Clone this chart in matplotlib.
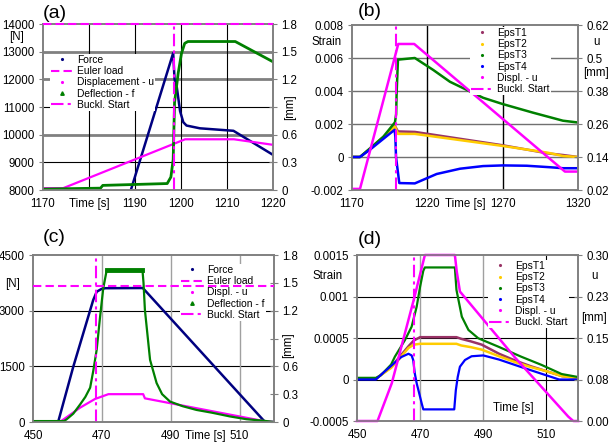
import matplotlib
matplotlib.use("Agg")
import matplotlib.pyplot as plt
from matplotlib.lines import Line2D

plt.rcParams["font.family"] = ["Liberation Sans", "DejaVu Sans"]

NAVY, MAG, GREEN = "#000080", "#ff00ff", "#008000"
PURP, YEL, BLUE = "#993366", "#ffcc00", "#0000ff"
GRAY, SPINE = "#808080", "#808080"

# ---- (a) static test, time 1170..1220 s
a_force_t = [1189.1, 1198.3, 1198.6, 1199.1, 1199.8, 1200.5, 1201.2, 1204.1, 1211.4, 1220.0]
a_force = [8000, 12950, 12000, 11700, 10850, 10450, 10330, 10230, 10140, 9270]
a_u_t = [1170, 1174.4, 1200.9, 1211.5, 1220]
a_u = [0.02, 0.02, 0.55, 0.55, 0.49]
a_f_t = [1170, 1182.5, 1183.0, 1197.0, 1197.8, 1198.3, 1198.6, 1199.4, 1200.1, 1200.8, 1201.5, 1211.8, 1220]
a_f = [0.01, 0.02, 0.05, 0.07, 0.14, 0.33, 0.95, 1.27, 1.48, 1.59, 1.61, 1.61, 1.39]
a_euler = 14000
a_buckle = 1198.5

# ---- (b) strains, time 1170..1320 s
b_rise_t = [1170, 1175.3, 1182, 1190.8]
b_t3_t = b_rise_t + [1198.5, 1199.3, 1199.6, 1200.5, 1211.7, 1224, 1235, 1257, 1270, 1290, 1310, 1320]
b_t3 = [0, 0, 0.00053, 0.00123, 0.0021, 0.0026, 0.0038, 0.0059, 0.0060, 0.00527,
        0.00456, 0.00359, 0.00321, 0.00269, 0.0022, 0.00209]
b_t12_t = b_rise_t + [1198.5, 1200.5, 1211.7, 1270, 1300, 1310, 1320]
b_t1 = [0, 0, 0.0005, 0.0012, 0.00188, 0.00155, 0.00152, 0.00071, 0.00022, 0.00012, 0.0]
b_t2 = [0, 0, 0.0005, 0.0012, 0.00185, 0.0014, 0.0014, 0.00067, 0.00026, 0.00006, 0.0]
b_t4_t = [1170, 1175.3, 1182, 1190.8, 1198.3, 1198.8, 1199.2, 1201.4, 1211.7, 1226.2,
          1241.7, 1257, 1270, 1286, 1301.4, 1310, 1320]
b_t4 = [0, 0, 0.00045, 0.0011, 0.00165, 0.0012, 0.0, -0.00158, -0.0016, -0.00103,
        -0.00071, -0.00055, -0.00051, -0.00053, -0.00062, -0.00068, -0.00068]
b_u_t = [1170, 1175.3, 1200.7, 1211.3, 1311.3, 1320]
b_u = [0.024, 0.024, 0.551, 0.551, 0.087, 0.087]
b_buckle = 1199

# ---- (c) dynamic test, time 450..520 s
c_force_t = [450, 457.3, 461.7, 467.5, 468.5, 469.9, 471.0, 481.9, 517.4, 520]
c_force = [0, 0, 1490, 3290, 3510, 3585, 3605, 3610, 0, 0]
c_u_t = [450, 457.8, 463.7, 468, 471.9, 482, 482.5, 517, 520]
c_u = [0, 0, 0.155, 0.248, 0.30, 0.30, 0.255, 0.01, 0.0]
c_f_t = [450, 459, 459.8, 461.7, 463.7, 465.2, 466.6, 467.5, 468.5, 469.5, 470.4, 471.4, 481.8,
         482.1, 482.5, 484, 485.9, 487.5, 489.8, 493.5, 497.5, 502, 507.2, 512, 516.9, 520]
c_f = [0.01, 0.01, 0.03, 0.09, 0.19, 0.27, 0.37, 0.55, 0.78, 1.14, 1.44, 1.635, 1.635,
       1.5, 1.21, 0.67, 0.42, 0.3, 0.22, 0.17, 0.13, 0.1, 0.06, 0.03, 0.014, 0.0]
c_euler = 3665
c_buckle = 468.3

# ---- (d) strains, time 450..520 s
d_t3_t = [450, 456, 457.5, 460.8, 462, 465.2, 467.3, 468.9, 470, 471, 471.5, 481, 481.5,
          483.2, 485.3, 488.4, 494.8, 502, 508.5, 514.8, 520]
d_t3 = [0.00002, 0.00002, 0.00005, 0.00018, 0.000275, 0.000476, 0.000636, 0.000877, 0.00112,
        0.00131, 0.00135, 0.00135, 0.00108, 0.000757, 0.000597, 0.000497, 0.000395, 0.000275,
        0.000175, 0.000066, 0.00003]
d_t12_t = [450, 456, 460.8, 463, 466.3, 468, 470, 481.5, 483, 486, 489.5, 495, 500, 505, 510, 515, 520]
d_t1 = [0.00001, 0.00001, 0.00015, 0.00025, 0.0004, 0.00047, 0.00051, 0.00051, 0.00049,
        0.00046, 0.00042, 0.00031, 0.00023, 0.00016, 0.0001, 0.00004, 0.00002]
d_t2 = [0.00001, 0.00001, 0.00014, 0.00023, 0.00038, 0.00042, 0.00043, 0.00043, 0.00041,
        0.00039, 0.00036, 0.00028, 0.00021, 0.00015, 0.0001, 0.00004, 0.00002]
d_t4_t = [450, 456, 458, 461, 464, 466.3, 467.3, 467.8, 468.3, 468.9, 469.7, 470.5, 471, 480.8,
          481.3, 481.9, 482.6, 484.2, 486.3, 490, 495, 502, 510, 514, 520]
d_t4 = [0, 0, 0.00007, 0.00017, 0.00027, 0.00031, 0.00029, 0.000235, 0.000075, -0.000045,
        -0.000166, -0.00029, -0.00036, -0.00036, -0.00013, 0.00003, 0.000154, 0.000235, 0.00028,
        0.00029, 0.00024, 0.00015, 0.00005, 0.0, 0.0]
d_u_t = [450, 456.5, 461, 468.2, 471.5, 481, 481.6, 482.6, 500, 516.9, 518.5, 520]
d_u = [0.0, 0.0, 0.068, 0.224, 0.30, 0.30, 0.27, 0.234, 0.115, 0.008, 0.0, 0.0]
d_buckle = 468

FS, LFS = 8.3, 7.4

fig = plt.figure(figsize=(6.1, 4.44), dpi=100)
W, H = 610.0, 444.0


def make_axes(px_l, px_r, px_t, px_b):
    ax = fig.add_axes([px_l / W, 1 - px_b / H, (px_r - px_l) / W, (px_b - px_t) / H])
    ax2 = ax.twinx()
    for a in (ax, ax2):
        for s in a.spines.values():
            s.set_color(SPINE)
            s.set_linewidth(1.2)
    ax.tick_params(axis="y", direction="out", length=3, color=SPINE, labelsize=FS, pad=3)
    ax.tick_params(axis="x", length=0, labelsize=FS, pad=6)
    ax2.tick_params(axis="y", direction="inout", length=6, color=SPINE, labelsize=FS, pad=3)
    return ax, ax2


def put(x, y, s, **kw):
    fig.text(x / W, 1 - y / H, s, fontsize=kw.pop("fontsize", FS), **kw)


def legend(ax2, items, px_x, px_y):
    handles = []
    for lab, kind, col in items:
        if kind == "dash":
            handles.append(Line2D([], [], color=col, ls=(0, (4, 2)), lw=1.5, label=lab))
        elif kind == "dashdot":
            handles.append(Line2D([], [], color=col, ls=(0, (6, 2, 1.5, 2)), lw=1.5, label=lab))
        else:
            handles.append(Line2D([], [], color=col, ls="none", marker=kind, ms=2.5, label=lab))
    leg = ax2.legend(handles=handles, loc="upper left", bbox_to_anchor=(px_x / W, 1 - px_y / H),
                     bbox_transform=fig.transFigure, frameon=True, fontsize=LFS, labelspacing=0.12,
                     handlelength=2.2, handletextpad=0.35, borderpad=0.1, borderaxespad=0,
                     numpoints=1, fancybox=False)
    leg.get_frame().set_edgecolor("none")
    leg.get_frame().set_facecolor("white")
    leg.get_frame().set_alpha(1)
    return leg


# ================= (a)
ax, ax2 = make_axes(43, 273, 24, 190)
for y in (13000, 12000, 10000):
    ax.axhline(y, color=GRAY, lw=2, zorder=0)
for y in (11000, 9000):
    ax.axhline(y, color="black", lw=0.8, zorder=0)
for x in (1180, 1190, 1200, 1210):
    ax.axvline(x, color="black", lw=0.8, zorder=0)
ax.plot(a_force_t, a_force, color=NAVY, lw=1.8)
ax2.plot(a_u_t, a_u, color=MAG, lw=1.6)
ax2.plot(a_f_t, a_f, color=GREEN, lw=2)
ax2.plot([1170, 1220], [a_euler, a_euler], color=MAG, ls=(0, (4, 2)), lw=1.5,
         transform=ax.transData, clip_on=False, zorder=6)
ax2.axvline(a_buckle, color=MAG, ls=(0, (6, 2, 1.5, 2)), lw=1.5)
ax.set_xlim(1170, 1220)
ax.set_ylim(8000, 14000)
ax2.set_ylim(0, 1.8)
ax.set_xticks([1170, 1180, 1190, 1200, 1210, 1220])
ax.set_xticklabels(["1170", "Time [s]", "1190", "1200", "1210", "1220"])
ax.set_yticks(range(8000, 14001, 1000))
ax2.set_yticks([0, 0.3, 0.6, 0.9, 1.2, 1.5, 1.8])
ax2.set_yticklabels(["0", "0.3", "0.6", "", "1.2", "1.5", "1.8"])
put(17, 37, "[N]", ha="center", va="center")
put(290, 107, "[mm]", ha="center", va="center", rotation=90)
put(43, 13, "(a)", ha="left", va="center", fontsize=14)
legend(ax2, [("Force", ".", NAVY), ("Euler load", "dash", MAG), ("Displacement - u", ".", MAG),
             ("Deflection - f", "^", GREEN), ("Buckl. Start", "dashdot", MAG)], 50, 54)

# ================= (b)
ax, ax2 = make_axes(352, 578, 25, 190)
for y in (0.006, 0.004, 0.002, 0.0):
    ax.axhline(y, color="#707070", lw=1, zorder=0)
for x in (1220, 1270):
    ax.axvline(x, color="black", lw=1, zorder=0)
ax.plot(b_t12_t, b_t1, color=PURP, lw=1.8)
ax.plot(b_t12_t, b_t2, color=YEL, lw=1.8)
ax.plot(b_t3_t, b_t3, color=GREEN, lw=1.8)
ax.plot(b_t4_t, b_t4, color=BLUE, lw=1.8)
ax2.plot(b_u_t, b_u, color=MAG, lw=1.8)
ax2.axvline(b_buckle, color=MAG, ls=(0, (6, 2, 1.5, 2)), lw=1.5)
ax.set_xlim(1170, 1320)
ax.set_ylim(-0.002, 0.008)
ax2.set_ylim(0.02, 0.62)
ax.set_xticks([1170, 1220, 1245, 1270, 1320])
ax.set_xticklabels(["1170", "1220", "Time [s]", "1270", "1320"])
ax.set_yticks([-0.002, 0, 0.002, 0.004, 0.006, 0.008])
ax.set_yticklabels(["-0.002", "0", "0.002", "0.004", "0.006", "0.008"])
ax2.set_yticks([0.02, 0.14, 0.26, 0.38, 0.5, 0.62])
ax2.set_yticklabels(["0.02", "0.14", "0.26", "0.38", "0.5", "0.62"])
put(327, 42, "Strain", ha="center", va="center")
put(596, 42, "u", ha="center", va="center")
put(596, 73, "[mm]", ha="center", va="center")
put(358, 12, "(b)", ha="left", va="center", fontsize=14)
legend(ax2, [("EpsT1", ".", PURP), ("EpsT2", ".", YEL), ("EpsT3", ".", GREEN),
             ("EpsT4", ".", BLUE), ("Displ. - u", ".", MAG), ("Buckl. Start", "dashdot", MAG)],
       470, 27)

# ================= (c)
ax, ax2 = make_axes(33, 274, 255, 422)
for y in (3000, 1500):
    ax.axhline(y, color="black", lw=0.8, zorder=0)
for x in (470, 490, 510):
    ax.axvline(x, color="#a0a0a0", lw=1, zorder=0)
ax.plot(c_force_t, c_force, color=NAVY, lw=1.8)
ax2.plot(c_u_t, c_u, color=MAG, lw=1.6)
ax2.plot(c_f_t, c_f, color=GREEN, lw=1.6)
ax2.plot([471.4, 481.8], [1.635, 1.635], color=GREEN, lw=3.5)
ax2.plot([450, 520], [c_euler, c_euler], color=MAG, ls=(0, (4, 2)), lw=1.5,
         transform=ax.transData, clip_on=False, zorder=6)
ax2.axvline(c_buckle, color=MAG, ls=(0, (6, 2, 1.5, 2)), lw=1.5)
ax.set_xlim(450, 520)
ax.set_ylim(0, 4500)
ax2.set_ylim(0, 1.8)
ax.set_xticks([450, 470, 490, 500, 510])
ax.set_xticklabels(["450", "470", "490", "Time [s]", "510"])
ax.set_yticks([0, 1500, 3000, 4500])
ax2.set_yticks([0, 0.3, 0.6, 0.9, 1.2, 1.5, 1.8])
ax2.set_yticklabels(["0", "0.3", "0.6", "", "1.2", "1.5", "1.8"])
put(13, 284, "[N]", ha="center", va="center")
put(288, 345, "[mm]", ha="center", va="center", rotation=90)
put(43, 237, "(c)", ha="left", va="center", fontsize=14)
legend(ax2, [("Force", ".", NAVY), ("Euler load", "dash", MAG), ("Displ. - u", ".", MAG),
             ("Deflection - f", "^", GREEN), ("Buckl. Start", "dashdot", MAG)], 180, 264)

# ================= (d)
ax, ax2 = make_axes(357, 578, 255, 421)
for y in (0.001, 0.0005, 0.0):
    ax.axhline(y, color="black", lw=0.8, zorder=0)
for x in (470, 490):
    ax.axvline(x, color="#a0a0a0", lw=1, zorder=0)
ax.axvline(510, color="black", lw=0.8, zorder=0)
ax.plot(d_t12_t, d_t1, color=PURP, lw=1.8)
ax.plot(d_t12_t, d_t2, color=YEL, lw=1.8)
ax.plot(d_t3_t, d_t3, color=GREEN, lw=1.6)
ax.plot(d_t4_t, d_t4, color=BLUE, lw=1.6)
ax2.plot(d_u_t, d_u, color=MAG, lw=1.8, clip_on=False)
ax2.axvline(d_buckle, color=MAG, ls=(0, (6, 2, 1.5, 2)), lw=1.5)
ax.set_xlim(450, 520)
ax.set_ylim(-0.0005, 0.0015)
ax2.set_ylim(0, 0.30)
ax.set_xticks([450, 470, 490, 510])
ax.set_yticks([-0.0005, 0, 0.0005, 0.001, 0.0015])
ax.set_yticklabels(["-0.0005", "0", "0.0005", "0.001", "0.0015"])
ax2.set_yticks([0, 0.075, 0.15, 0.225, 0.30])
ax2.set_yticklabels(["0.00", "0.08", "0.15", "0.23", "0.30"])
ax.text(493.1, -0.00034, "Time [s]", fontsize=FS, ha="left", va="center")
put(328, 276, "Strain", ha="center", va="center")
put(594, 276, "u", ha="center", va="center")
put(594, 318, "[mm]", ha="center", va="center")
put(358, 239, "(d)", ha="left", va="center", fontsize=14)
legend(ax2, [("EpsT1", ".", PURP), ("EpsT2", ".", YEL), ("EpsT3", ".", GREEN),
             ("EpsT4", ".", BLUE), ("Displ. - u", ".", MAG), ("Buckl. Start", "dashdot", MAG)],
       488, 260)

fig.savefig("out.png", dpi=100)
